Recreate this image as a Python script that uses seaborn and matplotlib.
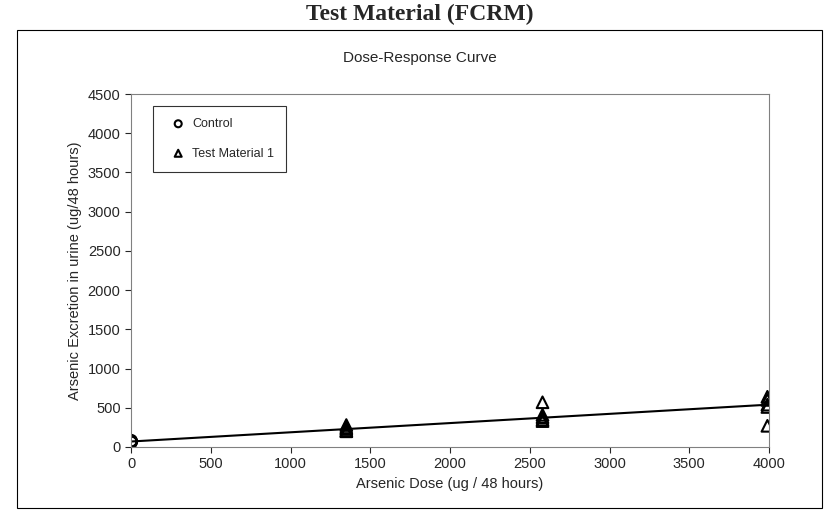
import numpy as np
import matplotlib
matplotlib.use("Agg")
import matplotlib.pyplot as plt
import seaborn as sns
from matplotlib.patches import Rectangle

control_dose = [0, 0, 0, 0, 0]
control_resp = [70, 60, 80, 75, 65]
test_dose = [1350, 1350, 1350, 1350, 1350, 2580, 2580, 2580, 2580, 2580,
             3990, 3990, 3990, 3990, 3990]
test_resp = [280, 250, 230, 200, 210, 570, 410, 380, 350, 330,
             640, 600, 540, 510, 270]
fit_x = [0, 4000]
fit_y = [70, 540]

sns.set_style("white")
plt.rcParams["font.family"] = ["Liberation Sans", "DejaVu Sans"]

fig = plt.figure(figsize=(8.39, 5.16), dpi=100)
ax = fig.add_axes([131 / 839, 1 - 447 / 516, (769 - 131) / 839, (447 - 94) / 516])

fig.text(0.5, 1 - 14 / 516, "Test Material (FCRM)", ha="center", va="center",
         fontsize=17, fontweight="bold", family="Liberation Serif")
fig.patches.append(Rectangle((17 / 839, 1 - 508 / 516), (822 - 17) / 839, (508 - 30) / 516,
                             transform=fig.transFigure, fill=False, edgecolor="black", lw=0.8))
fig.text(0.5, 1 - 58 / 516, "Dose-Response Curve", ha="center", va="center", fontsize=11)

sns.lineplot(x=fit_x, y=fit_y, ax=ax, color="black", lw=1.5)
sns.scatterplot(x=control_dose, y=control_resp, ax=ax, marker="o", s=70,
                facecolor="none", edgecolor="black", linewidth=1.5, label="Control")
sns.scatterplot(x=test_dose, y=test_resp, ax=ax, marker="^", s=70,
                facecolor="none", edgecolor="black", linewidth=1.5, label="Test Material 1")

ax.set_xlim(0, 4000)
ax.set_ylim(0, 4500)
ax.set_xticks(np.arange(0, 4001, 500))
ax.set_yticks(np.arange(0, 4501, 500))
ax.tick_params(labelsize=10.5, direction="out", length=4, bottom=True, left=True)
for s in ax.spines.values():
    s.set_color("#808080")
ax.set_xlabel("Arsenic Dose (ug / 48 hours)", fontsize=10.5)
ax.set_ylabel("Arsenic Excretion in urine (ug/48 hours)", fontsize=10.5)
leg = ax.legend(loc="upper left", bbox_to_anchor=(0.025, 0.985), fontsize=9,
                frameon=True, fancybox=False, edgecolor="black", borderpad=1.0,
                labelspacing=1.4, handletextpad=0.1, markerscale=0.6)
leg.get_frame().set_linewidth(0.8)

fig.savefig("out.png", dpi=100)
